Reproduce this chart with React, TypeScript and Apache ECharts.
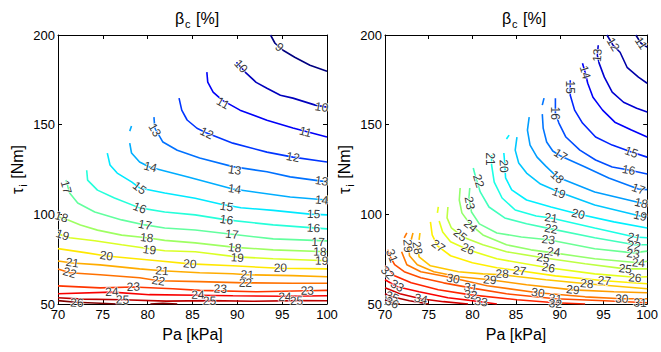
import React, { useEffect, useRef } from "react";
import * as echarts from "echarts";

// axis ranges / ticks
const paRange = [70, 100];
const paStep = 5;
const tauRange = [50, 200];
const tauStep = 50;

// ---------- left panel contour lines: [Pa kPa, tau Nm] ----------
const l09 = [[93.7,200],[94.2,195.4],[95.1,191.5],[96.4,187.6],[98.1,183.1],[100,179.8]];
const l10 = [[89.9,184.8],[90.9,179.2],[92.1,173.6],[93.3,170.3],[94.8,166.4],[96.2,164.8],[98.7,160.9],[100,159.8]];
const l11 = [[86.6,179.3],[86.7,173.7],[87.3,168.1],[88.3,163.7],[90.3,158.1],[93.3,152.5],[96.2,148.1],[100,143.1]];
const l12 = [[83.5,164.8],[83.8,158.1],[84.4,152.6],[85.5,148.0],[86.6,145.3],[89.5,139.7],[93.3,134.7],[96.2,131.9],[100,129.2]];
const l13 = [[80.7,154.2],[80.8,148.1],[81.7,140.3],[83.3,135.7],[85.8,131.4],[89.5,126.6],[93.3,123.7],[95.9,120.9],[100,118.1]];
const l14a = [[78.2,149.2],[78.0,146.4]];
const l14 = [[78.0,139.7],[78.2,134.2],[79.1,129.2],[80.2,126.4],[81.9,124.2],[84.5,120.8],[89.5,114.1],[95.9,109.7],[100,108.0]];
const l15 = [[75.5,134.1],[75.8,127.5],[76.6,123.0],[78.2,118.1],[79.1,114.7],[81.9,111.9],[85.3,109.0],[88.2,105.6],[90.4,103.7],[94.0,102.2],[98.1,100.1],[100,99.7]];
const l16 = [[73.2,124.6],[73.3,119.1],[74.4,113.5],[76.3,109.1],[79.1,103.6],[81.9,101.3],[85.3,99.7],[88.8,96.9],[94.0,94.1],[100,91.9]];
const l17 = [[70.9,119.1],[71.3,111.9],[72.2,106.3],[74.1,101.3],[77.1,96.9],[79.7,94.1],[81.9,92.4],[85.3,91.3],[89.4,88.9],[94.0,86.3],[100,85.2]];
const l18 = [[70,98.6],[71.2,96.7],[72.5,94.0],[74.4,91.2],[77.1,88.4],[79.9,86.9],[81.9,85.5],[85.3,84.1],[89.8,81.6],[94.0,80.2],[100,79.1]];
const l19 = [[70,89.1],[71.3,86.9],[74.1,85.3],[77.1,83.0],[80.2,80.8],[81.9,79.7],[85.3,79.1],[90.0,76.3],[94.0,75.2],[100,74.1]];
const l20 = [[70,80.9],[73.2,78.5],[75.4,76.8],[81.4,74.0],[84.7,72.4],[89.5,71.3],[94.7,69.9],[100,69.6]];
const l21 = [[70,74.0],[71.6,72.9],[74.7,71.8],[79.1,69.6],[81.6,68.5],[85.8,67.4],[89.5,66.9],[91.1,66.3],[96.2,65.8],[100,65.2]];
const l22 = [[70,69.5],[71.3,67.4],[74.7,66.3],[79.1,64.6],[81.2,63.0],[85.8,62.5],[90.9,61.8],[96.2,61.6],[100,61.6]];
const l23 = [[70,60.1],[74.7,59.0],[78.4,59.5],[82.8,58.5],[85.8,57.6],[92.2,56.8],[97.8,57.4],[100,57.6]];
const l24 = [[70,55.7],[76.0,56.6],[80.2,55.2],[85.6,54.9],[89.5,54.6],[95.3,54.3],[100,54.6]];
const l25 = [[70,53.5],[72.8,52.7],[77.2,52.4],[82.1,51.6],[86.9,51.9],[91.7,51.5],[96.6,51.9],[100,51.8]];
const l26 = [[70,51.9],[72.0,51.0],[74.7,50.4],[76.6,50.0]];
const l26b = [[80.3,50.0],[81.7,50.4],[83.3,50.0]];

const leftLevels = [9, 26];
const leftContours: [number, number[][]][] = [
  [9, l09], [10, l10], [11, l11], [12, l12], [13, l13], [14, l14a], [14, l14],
  [15, l15], [16, l16], [17, l17], [18, l18], [19, l19], [20, l20], [21, l21],
  [22, l22], [23, l23], [24, l24], [25, l25], [26, l26], [26, l26b],
];
// [level, Pa, tau]
const leftLabels = [
  [9,94.7,193.2],[10,90.4,182.6],[10,99.4,159.8],[11,88.4,162.0],[11,97.6,145.9],
  [12,86.6,145.3],[12,96.2,131.9],[13,80.8,147.0],[13,89.7,124.7],[13,99.4,118.6],
  [14,80.3,126.4],[14,89.7,114.1],[14,99.4,108.0],[15,79.1,114.7],[15,88.8,104.3],[15,98.5,100.2],
  [16,79.1,103.6],[16,88.8,96.9],[16,98.5,92.4],[17,70.9,115.2],[17,79.7,94.1],[17,89.4,88.9],[17,99.0,84.6],
  [18,70.4,98.6],[18,79.9,86.9],[18,89.7,81.3],[18,99.2,79.1],[19,70.5,88.5],[19,80.2,80.2],[19,90.0,75.8],[19,99.4,74.1],
  [20,75.4,76.9],[20,84.7,72.4],[20,94.8,70.2],[21,71.6,73.0],[21,81.6,68.5],[21,91.1,66.3],
  [22,71.3,67.4],[22,81.2,63.0],[22,90.9,61.8],[23,78.4,59.6],[23,88.1,58.5],[23,97.8,57.4],
  [24,76.0,56.8],[24,85.6,55.1],[24,95.3,54.0],[25,77.2,52.4],[25,86.9,51.8],[25,96.6,51.8],
  [26,72.1,50.7],[26,81.7,49.9],
];

// ---------- right panel contour lines ----------
const r11 = [[98.7,200],[99.3,195.4],[100,193.2]];
const r12 = [[95.4,200],[96.1,194.3],[96.9,190.4],[97.7,182.0],[99.0,176.5],[100,173.1]];
const r13 = [[94.4,194.3],[94.3,188.7],[94.5,184.3],[95.1,176.5],[96.0,168.1],[97.3,162.5],[98.8,159.2],[100,157.0]];
const r14 = [[92.6,184.3],[92.9,179.2],[93.2,173.1],[93.8,165.3],[94.9,158.1],[96.3,151.4],[98.2,147.0],[100,143.1]];
const r15 = [[91.2,174.8],[91.2,170.9],[91.2,166.4],[91.7,158.1],[92.6,150.9],[94.1,143.1],[96.0,138.6],[98.2,134.7],[100,131.9]];
const r16 = [[89.5,164.8],[89.5,156.4],[89.9,150.9],[90.7,143.1],[92.3,135.8],[94.1,130.3],[96.0,126.4],[97.9,124.7],[100,122.5]];
const r17a = [[88.2,164.8],[88.0,160.9]];
const r17 = [[88.0,155.9],[88.1,148.1],[88.5,140.3],[89.2,135.3],[90.1,132.5],[92.9,126.4],[95.6,120.3],[99.0,114.1],[100,113.8]];
const r18 = [[86.5,154.2],[86.3,147.0],[86.6,138.6],[87.4,131.9],[88.4,126.9],[89.7,120.8],[94.0,112.5],[99.3,106.3],[100,105.8]];
const r19 = [[85.1,143.1],[84.9,135.8],[85.3,128.6],[86.2,123.0],[87.8,116.9],[89.9,112.5],[94.0,105.2],[99.2,99.1],[100,98.6]];
const r20a = [[84.2,144.2],[83.9,142.0]];
const r20 = [[83.6,134.2],[83.7,128.6],[83.8,120.3],[84.5,113.6],[86.2,108.0],[89.0,104.1],[92.1,100.2],[96.2,95.8],[100,92.4]];
const r21 = [[82.2,133.1],[82.2,127.5],[82.5,118.0],[83.4,109.1],[84.9,102.4],[87.3,99.1],[89.0,98.0],[94.0,92.4],[98.6,87.4],[100,86.9]];
const r22 = [[80.1,125.8],[80.4,120.3],[80.9,112.5],[81.9,104.1],[83.7,98.0],[86.2,94.7],[89.0,91.9],[94.0,86.9],[98.6,83.0],[100,83.0]];
const r23 = [[79.7,114.7],[79.6,109.1],[79.9,101.3],[80.8,94.7],[82.8,89.6],[85.6,87.4],[88.7,85.8],[94.0,80.8],[98.4,78.5],[100,79.5]];
const r24 = [[78.6,114.7],[78.5,108.0],[78.8,100.8],[79.7,94.7],[81.2,88.5],[83.9,83.0],[86.7,80.2],[89.3,78.5],[94.0,75.2],[99.0,73.0],[100,73.8]];
const r25 = [[77.2,104.1],[77.1,98.0],[77.6,92.4],[78.9,87.4],[81.2,83.0],[83.9,79.1],[88.1,75.8],[92.9,72.4],[97.5,69.6],[100,69.6]];
const r26a = [[76.1,104.1],[76.0,100.8]];
const r26 = [[76.2,96.3],[76.6,90.2],[77.5,84.7],[79.5,80.2],[82.8,75.2],[88.7,70.2],[94.0,66.8],[98.6,64.9],[100,65.2]];
const r27 = [[75.2,95.8],[75.4,88.5],[76.0,82.4],[77.5,76.9],[80.0,73.0],[82.8,70.2],[85.4,68.5],[89.5,65.7],[95.1,63.0],[100,61.3]];
const r28a = [[74.0,89.6],[73.9,85.8]];
const r28 = [[73.7,82.4],[73.9,76.3],[75.2,71.3],[78.4,68.0],[81.2,66.8],[83.4,66.3],[88.4,63.5],[93.1,61.3],[100,58.5]];
const r29a = [[73.2,89.6],[73.0,85.8]];
const r29 = [[72.7,83.5],[72.8,76.9],[73.7,71.9],[75.6,68.0],[78.4,65.2],[82.0,63.5],[86.2,60.7],[91.5,57.9],[96.2,56.8],[100,56.3]];
const r30a = [[72.5,89.6],[72.2,86.9]];
const r30 = [[71.9,79.1],[72.5,71.9],[74.1,68.0],[77.1,65.2],[81.7,60.2],[87.5,56.3],[92.9,54.0],[97.1,52.9],[100,52.9]];
const r31 = [[70.3,80.2],[70.6,76.3],[71.1,71.9],[72.2,68.0],[74.1,64.6],[76.7,61.8],[79.8,59.0],[83.9,55.7],[89.5,52.9],[95.1,51.8],[100,50.7]];
const r32 = [[70,71.3],[71.1,65.7],[73.0,61.8],[76.1,57.9],[79.8,55.1],[85.1,52.4],[89.5,50.7],[92.9,50.0]];
const r33 = [[70,63.5],[71.4,59.6],[73.9,56.8],[77.2,53.5],[80.9,51.3],[82.8,50.0]];
const r34 = [[70,59.0],[71.7,55.7],[74.1,52.9],[76.7,51.3],[79.5,50.0]];
const r35 = [[70,55.7],[70.8,54.0],[72.8,51.8],[75.0,50.0]];
const r36 = [[70,52.4],[70.8,50.7],[71.7,50.0]];

const rightLevels = [11, 36];
const rightContours: [number, number[][]][] = [
  [11, r11], [12, r12], [13, r13], [14, r14], [15, r15], [16, r16], [17, r17a], [17, r17],
  [18, r18], [19, r19], [20, r20a], [20, r20], [21, r21], [22, r22], [23, r23], [24, r24],
  [25, r25], [26, r26a], [26, r26], [27, r27], [28, r28a], [28, r28], [29, r29a], [29, r29],
  [30, r30a], [30, r30], [31, r31], [32, r32], [33, r33], [34, r34], [35, r35], [36, r36],
];
const rightLabels = [
  [11,99.3,195.4],[12,96.1,194.8],[13,94.3,188.7],[14,92.9,179.2],[15,91.2,170.9],[15,98.2,134.7],
  [16,89.5,156.4],[16,97.9,124.7],[17,90.1,133.1],[17,99.0,114.1],[18,89.7,120.8],[18,99.3,106.3],
  [19,89.9,111.9],[19,99.2,99.1],[20,83.6,126.9],[20,92.1,100.2],
  [21,82.0,130.8],[21,89.0,98.0],[21,98.5,86.9],[22,80.7,118.6],[22,89.0,91.9],[22,98.5,82.4],
  [23,79.7,106.3],[23,88.7,85.8],[23,98.4,78.0],[24,79.8,93.5],[24,89.3,79.1],[24,99.0,73.0],
  [25,78.6,88.5],[25,88.1,75.8],[25,97.5,69.6],[26,79.5,80.8],[26,88.7,70.2],[26,98.6,64.6],
  [27,76.1,82.4],[27,85.4,68.5],[27,95.1,63.0],[28,73.7,81.3],[28,83.4,66.8],[28,93.1,61.3],
  [29,72.6,82.4],[29,82.0,63.5],[29,91.5,57.9],[30,77.8,64.1],[30,87.5,56.3],[30,97.1,52.9],
  [31,70.8,76.9],[31,79.8,59.0],[31,89.5,52.9],[31,99.2,50.7],[32,70.3,67.4],[32,79.8,55.1],[32,89.5,50.2],
  [33,71.4,60.2],[33,81.0,51.3],[34,74.1,52.9],[35,70.8,54.0],[36,70.8,50.7],
];

const FONT = "Liberation Sans, Arial, sans-serif";
const GRID_W = 269;
const GRID_H = 269;

function jet(t: number) {
  const c = (v: number) => Math.max(0, Math.min(1, v));
  const r = c(1.5 - Math.abs(4 * t - 3));
  const g = c(1.5 - Math.abs(4 * t - 2));
  const b = c(1.5 - Math.abs(4 * t - 1));
  return `rgb(${Math.round(r * 255)},${Math.round(g * 255)},${Math.round(b * 255)})`;
}

function labelAngle(contours: [number, number[][]][], lev: number, x: number, y: number) {
  const sx = GRID_W / (paRange[1] - paRange[0]);
  const sy = GRID_H / (tauRange[1] - tauRange[0]);
  let best = Infinity;
  let ang = 0;
  contours.forEach(([l, pts]) => {
    if (l !== lev) return;
    for (let i = 0; i < pts.length - 1; i++) {
      const ax = pts[i][0] * sx, ay = pts[i][1] * sy;
      const bx = pts[i + 1][0] * sx, by = pts[i + 1][1] * sy;
      const px = x * sx, py = y * sy;
      const dx = bx - ax, dy = by - ay;
      const len2 = dx * dx + dy * dy || 1;
      let t = ((px - ax) * dx + (py - ay) * dy) / len2;
      t = Math.max(0, Math.min(1, t));
      const qx = ax + t * dx - px, qy = ay + t * dy - py;
      const d = qx * qx + qy * qy;
      if (d < best) {
        best = d;
        let a = (Math.atan2(dy, dx) * 180) / Math.PI;
        if (a > 90) a -= 180;
        if (a < -90) a += 180;
        ang = a;
      }
    }
  });
  return ang;
}

function panelSeries(
  contours: [number, number[][]][],
  labels: number[][],
  levels: number[],
  axisIdx: number
) {
  const series: any[] = [];
  contours.forEach(([lev, pts]) => {
    series.push({
      type: "line",
      xAxisIndex: axisIdx,
      yAxisIndex: axisIdx,
      data: pts,
      showSymbol: false,
      symbol: "none",
      silent: true,
      clip: true,
      z: 2,
      lineStyle: { color: jet((lev - levels[0]) / (levels[1] - levels[0])), width: 1.6 },
    });
  });
  series.push({
    type: "scatter",
    xAxisIndex: axisIdx,
    yAxisIndex: axisIdx,
    symbol: "circle",
    symbolSize: 1,
    silent: true,
    z: 5,
    itemStyle: { color: "rgba(0,0,0,0)" },
    data: labels.map(([lev, x, y]) => ({
      value: [x, y],
      name: String(lev),
      label: { rotate: labelAngle(contours, lev, x, y) },
    })),
    label: {
      show: true,
      position: "inside",
      formatter: "{b}",
      fontSize: 12,
      fontFamily: FONT,
      color: "#000",
      textBorderColor: "#fff",
      textBorderWidth: 1.5,
    },
  });
  return series;
}

const richName = {
  b: { fontSize: 16, fontFamily: FONT, fontWeight: "normal", color: "#000", lineHeight: 22 },
  s: { fontSize: 11, fontFamily: FONT, fontWeight: "normal", color: "#000", lineHeight: 12, verticalAlign: "bottom", padding: [0, 1, 0, 1] },
};

function axesFor(gridIndex: number) {
  const common = {
    type: "value",
    gridIndex,
    axisLine: { show: true, onZero: false, lineStyle: { color: "#000", width: 1 } },
    axisTick: { show: true, inside: true, length: 4, lineStyle: { color: "#000" } },
    splitLine: { show: false },
  };
  const x = [
    {
      ...common,
      position: "bottom",
      min: paRange[0],
      max: paRange[1],
      interval: paStep,
      axisLabel: { show: true, fontSize: 13, fontFamily: FONT, color: "#000", margin: 4 },
      name: "Pa [kPa]",
      nameLocation: "middle",
      nameGap: 22,
      nameTextStyle: { fontSize: 16, fontFamily: FONT, color: "#000" },
    },
    {
      ...common,
      position: "top",
      min: paRange[0],
      max: paRange[1],
      interval: paStep,
      axisLabel: { show: false },
    },
  ];
  const y = [
    {
      ...common,
      position: "left",
      min: tauRange[0],
      max: tauRange[1],
      interval: tauStep,
      axisLabel: { show: true, fontSize: 13, fontFamily: FONT, color: "#000", margin: 3 },
      name: "{b|τ}{s|i}{b| [Nm]}",
      nameLocation: "middle",
      nameGap: 30,
      nameTextStyle: { rich: richName },
    },
    {
      ...common,
      position: "right",
      min: tauRange[0],
      max: tauRange[1],
      interval: tauStep,
      axisLabel: { show: false },
    },
  ];
  return { x, y };
}

export default function App() {
  const ref = useRef<HTMLDivElement>(null);
  useEffect(() => {
    if (!ref.current) return;
    const chart = echarts.init(ref.current, undefined, { renderer: "svg" });
    const a0 = axesFor(0);
    const a1 = axesFor(1);
    const titleStyle = { fontWeight: "normal", rich: richName };
    const option: any = {
      animation: false,
      backgroundColor: "#fff",
      title: [
        { text: "{b|β}{s|c}{b| [%]}", left: 192, top: 2, textAlign: "center", textStyle: titleStyle },
        { text: "{b|β}{s|c}{b| [%]}", left: 519, top: 2, textAlign: "center", textStyle: titleStyle },
      ],
      grid: [
        { left: 58, top: 35, width: GRID_W, height: GRID_H },
        { left: 385, top: 35, width: GRID_W, height: GRID_H },
      ],
      xAxis: [...a0.x, ...a1.x],
      yAxis: [...a0.y, ...a1.y],
      series: [
        ...panelSeries(leftContours, leftLabels, leftLevels, 0),
        ...panelSeries(rightContours, rightLabels, rightLevels, 2),
      ],
    };
    chart.setOption(option);
    return () => chart.dispose();
  }, []);
  return (
    <div
      ref={ref}
      style={{ position: "fixed", left: 0, top: 0, width: 661, height: 352, background: "#fff" }}
    />
  );
}
